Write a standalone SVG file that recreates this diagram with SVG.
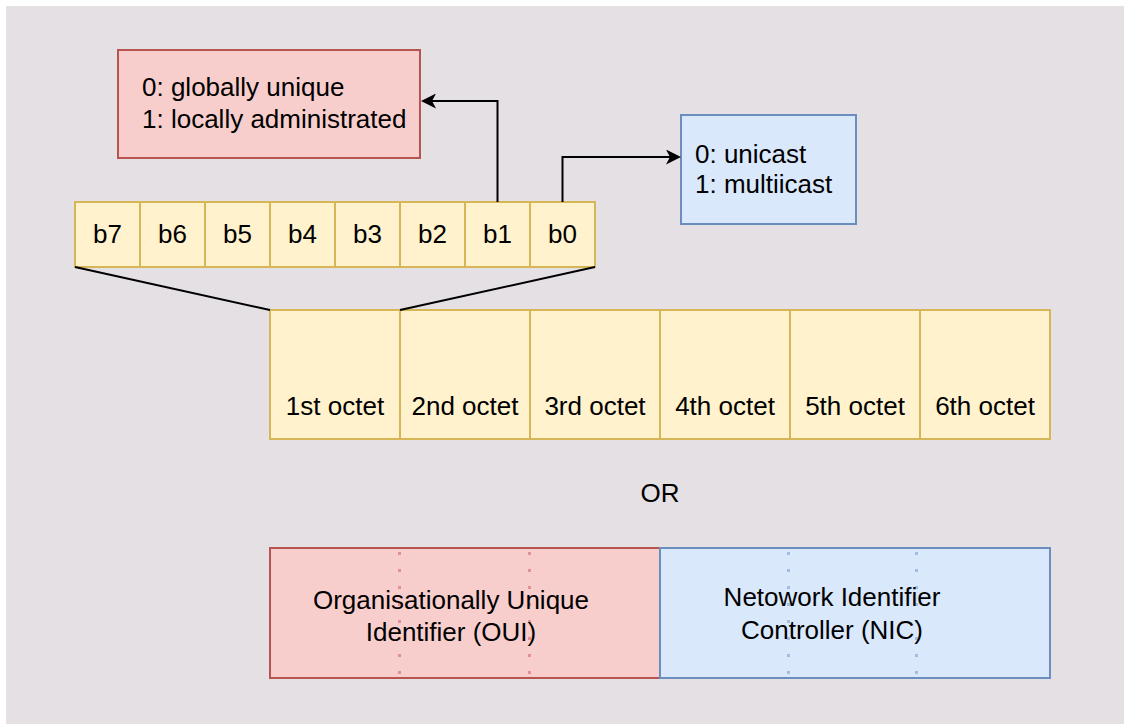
<svg xmlns="http://www.w3.org/2000/svg" width="1124" height="724" viewBox="0 0 1124 724">
  <defs>
    <!-- classic arrowhead; ref at the notch so the line stops inside the head -->
    <marker id="arrow" viewBox="0 0 15 15" refX="4" refY="7.5" markerWidth="15" markerHeight="15" markerUnits="userSpaceOnUse" orient="auto">
      <path d="M0,0 L15,7.5 L0,15 L4,7.5 Z" fill="#000"/>
    </marker>
    <style>
      .t { font-family: "Liberation Sans", Arial, sans-serif; font-size: 26px; fill: #000; }
      .c { text-anchor: middle; }
      .bit { fill: #fff2cc; stroke: #d6b656; stroke-width: 2; }
      .red { fill: #f8cecc; stroke: #b85450; stroke-width: 2; }
      .blue { fill: #dae8fc; stroke: #6c8ebf; stroke-width: 2; }
      .conn { fill: none; stroke: #000; stroke-width: 2; }
      .dotr { stroke: #e09296; stroke-width: 3; stroke-dasharray: 3 14; }
      .dotb { stroke: #a2bde3; stroke-width: 3; stroke-dasharray: 3 14; }
    </style>
  </defs>

  <!-- canvas -->
  <rect x="6" y="6" width="1118" height="718" fill="#e4e0e4"/>

  <!-- flag legend boxes -->
  <g id="ul-bit-note">
    <rect class="red" x="118" y="50" width="302" height="108"/>
    <text class="t" x="142" y="96">0: globally unique</text>
    <text class="t" x="142" y="128">1: locally administrated</text>
  </g>
  <g id="ig-bit-note">
    <rect class="blue" x="681" y="115" width="175" height="109"/>
    <text class="t" x="695" y="163">0: unicast</text>
    <text class="t" x="695" y="193">1: multiicast</text>
  </g>

  <!-- bits of the first octet -->
  <g id="bits">
    <rect class="bit" x="75" y="202" width="65" height="65"/>
    <rect class="bit" x="140" y="202" width="65" height="65"/>
    <rect class="bit" x="205" y="202" width="65" height="65"/>
    <rect class="bit" x="270" y="202" width="65" height="65"/>
    <rect class="bit" x="335" y="202" width="65" height="65"/>
    <rect class="bit" x="400" y="202" width="65" height="65"/>
    <rect class="bit" x="465" y="202" width="65" height="65"/>
    <rect class="bit" x="530" y="202" width="65" height="65"/>
    <text class="t c" x="107.5" y="243">b7</text>
    <text class="t c" x="172.5" y="243">b6</text>
    <text class="t c" x="237.5" y="243">b5</text>
    <text class="t c" x="302.5" y="243">b4</text>
    <text class="t c" x="367.5" y="243">b3</text>
    <text class="t c" x="432.5" y="243">b2</text>
    <text class="t c" x="497.5" y="243">b1</text>
    <text class="t c" x="562.5" y="243">b0</text>
  </g>

  <!-- six octets -->
  <g id="octets">
    <rect class="bit" x="270" y="310" width="130" height="129"/>
    <rect class="bit" x="400" y="310" width="130" height="129"/>
    <rect class="bit" x="530" y="310" width="130" height="129"/>
    <rect class="bit" x="660" y="310" width="130" height="129"/>
    <rect class="bit" x="790" y="310" width="130" height="129"/>
    <rect class="bit" x="920" y="310" width="130" height="129"/>
    <text class="t c" x="335" y="415">1st octet</text>
    <text class="t c" x="465" y="415">2nd octet</text>
    <text class="t c" x="595" y="415">3rd octet</text>
    <text class="t c" x="725" y="415">4th octet</text>
    <text class="t c" x="855" y="415">5th octet</text>
    <text class="t c" x="985" y="415">6th octet</text>
  </g>

  <g id="or-label">
    <text class="t c" x="660" y="502">OR</text>
  </g>

  <!-- OUI / NIC halves -->
  <g id="oui">
    <rect class="red" x="270" y="548" width="390" height="130"/>
    <line class="dotr" x1="399.5" y1="552" x2="399.5" y2="678"/>
    <line class="dotr" x1="529.5" y1="552" x2="529.5" y2="678"/>
    <text class="t c" x="451" y="609">Organisationally Unique</text>
    <text class="t c" x="451" y="641">Identifier (OUI)</text>
  </g>
  <g id="nic">
    <rect class="blue" x="660" y="548" width="390" height="130"/>
    <line class="dotb" x1="788.5" y1="552" x2="788.5" y2="678"/>
    <line class="dotb" x1="916.5" y1="552" x2="916.5" y2="678"/>
    <text class="t c" x="832" y="606">Netowork Identifier</text>
    <text class="t c" x="832" y="639">Controller (NIC)</text>
  </g>

  <!-- connectors -->
  <g id="connectors">
    <line class="conn" x1="75" y1="267" x2="270" y2="310"/>
    <line class="conn" x1="595" y1="267" x2="400" y2="310"/>
    <path class="conn" d="M497.5,202 V101 H432" marker-end="url(#arrow)"/>
    <path class="conn" d="M562.5,202 V157 H670" marker-end="url(#arrow)"/>
  </g>
</svg>
